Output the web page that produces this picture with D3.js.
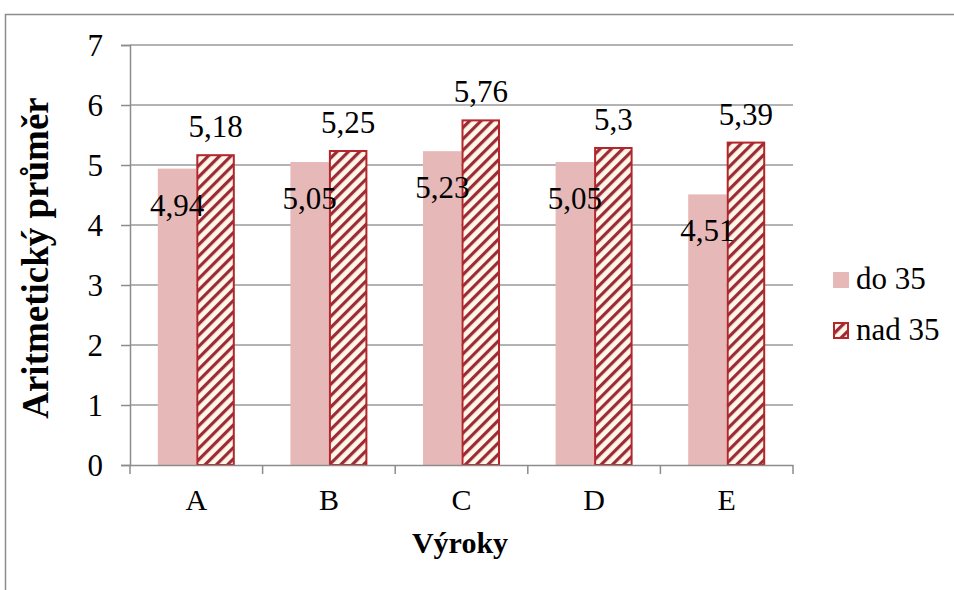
<!DOCTYPE html>
<html>
<head>
<meta charset="utf-8">
<script src="https://cdn.jsdelivr.net/npm/d3@7"></script>
<style>
body{margin:0;background:#fff;}
svg text{font-family:"Liberation Serif","Times New Roman",serif !important;fill:#000;}
</style>
</head>
<body>
<script>
const categories = ["A","B","C","D","E"];
const seriesNames = ["do 35","nad 35"];
const do35 = [4.94,5.05,5.23,5.05,4.51];
const nad35 = [5.18,5.25,5.76,5.3,5.39];
const yTicks = [0,1,2,3,4,5,6,7];
const yTitle = "Aritmetický průměr";
const xTitle = "Výroky";

const W=954,H=590;
const FONT="Liberation Serif";
const svg=d3.select("body").append("svg").attr("width",W).attr("height",H);

const defs=svg.append("defs");
const pat=defs.append("pattern").attr("id","hatch").attr("patternUnits","userSpaceOnUse")
  .attr("width",8).attr("height",8).attr("patternTransform","rotate(45)");
pat.append("rect").attr("width",8).attr("height",8).attr("fill","#fff8e8");
pat.append("rect").attr("x",0).attr("width",3.2).attr("height",8).attr("fill","#9c2b3a");

// outer frame
svg.append("path").attr("d",`M5.5,${H}V14.5H${W}`).attr("fill","none").attr("stroke","#8c8c8c").attr("stroke-width",1.5);

const L=130,R=793,T=45,B=465;
const x=d3.scaleBand().domain(categories).range([L,R]);
const y=d3.scaleLinear().domain([0,7]).range([B,T]);
const bw=38.5;

// gridlines
svg.append("g").selectAll("line").data(yTicks.filter(d=>d>0)).join("line")
  .attr("x1",L).attr("x2",R).attr("y1",d=>y(d)).attr("y2",d=>y(d))
  .attr("stroke","#9a9a9a").attr("stroke-width",1.5);

// y axis
const ya=svg.append("g").attr("transform",`translate(${L},0)`)
  .call(d3.axisLeft(y).tickValues(yTicks).tickSize(9).tickPadding(18).tickFormat(d3.format("d")));
ya.attr("font-family",FONT);
ya.select(".domain").attr("stroke","#8c8c8c").attr("stroke-width",1.5);
ya.selectAll(".tick line").attr("stroke","#8c8c8c").attr("stroke-width",1.5);
ya.selectAll("text").attr("font-size",31).attr("font-family",FONT).attr("dy","0.34em");

// bars
const gcat=svg.append("g").selectAll("g").data(categories).join("g");
gcat.append("rect").attr("x",(d)=>x(d)+x.bandwidth()/2-bw).attr("width",bw)
  .attr("y",(d,i)=>y(do35[i])).attr("height",(d,i)=>B-y(do35[i])).attr("fill","#e6b8b7");
gcat.append("rect").attr("x",(d)=>x(d)+x.bandwidth()/2+1).attr("width",bw-2)
  .attr("y",(d,i)=>y(nad35[i])+1).attr("height",(d,i)=>B-y(nad35[i])-1)
  .attr("fill","url(#hatch)").attr("stroke","#b3262b").attr("stroke-width",2);

const fmt=v=>String(v).replace(".",",");
gcat.append("text").attr("x",d=>x(d)+x.bandwidth()/2-bw/2).attr("y",(d,i)=>y(do35[i])+47)
  .attr("text-anchor","middle").attr("font-size",31).attr("font-family",FONT).text((d,i)=>fmt(do35[i]));
gcat.append("text").attr("x",d=>x(d)+x.bandwidth()/2+bw/2).attr("y",(d,i)=>y(nad35[i])-17)
  .attr("text-anchor","middle").attr("font-size",31).attr("font-family",FONT).text((d,i)=>fmt(nad35[i]));

// x axis
const xa=svg.append("g").attr("transform",`translate(0,${B})`)
  .call(d3.axisBottom(x).tickSize(0).tickPadding(24));
xa.attr("font-family",FONT);
xa.select(".domain").attr("stroke","#8c8c8c").attr("stroke-width",1.5);
xa.selectAll("text").attr("font-size",30).attr("font-family",FONT).attr("dy","0.71em");
svg.append("g").selectAll("line").data(categories.concat(["_end"])).join("line")
  .attr("x1",(d,i)=>L+i*x.step()).attr("x2",(d,i)=>L+i*x.step())
  .attr("y1",B).attr("y2",B+9).attr("stroke","#8c8c8c").attr("stroke-width",1.5);

// titles
svg.append("text").attr("transform",`translate(48,258) rotate(-90)`).attr("text-anchor","middle")
  .attr("font-size",37).attr("font-weight","bold").attr("font-family",FONT).text(yTitle);
svg.append("text").attr("x",460).attr("y",553).attr("text-anchor","middle")
  .attr("font-size",30).attr("font-weight","bold").attr("font-family",FONT).text(xTitle);

// legend
const lg=svg.append("g");
lg.append("rect").attr("x",833).attr("y",272).attr("width",16).attr("height",16).attr("fill","#e6b8b7");
lg.append("rect").attr("x",834).attr("y",323).attr("width",14).attr("height",15)
  .attr("fill","url(#hatch)").attr("stroke","#b3262b").attr("stroke-width",2);
lg.append("text").attr("x",856).attr("y",289).attr("font-size",31).attr("font-family",FONT).text(seriesNames[0]);
lg.append("text").attr("x",856).attr("y",340).attr("font-size",31).attr("font-family",FONT).text(seriesNames[1]);
</script>
</body>
</html>
